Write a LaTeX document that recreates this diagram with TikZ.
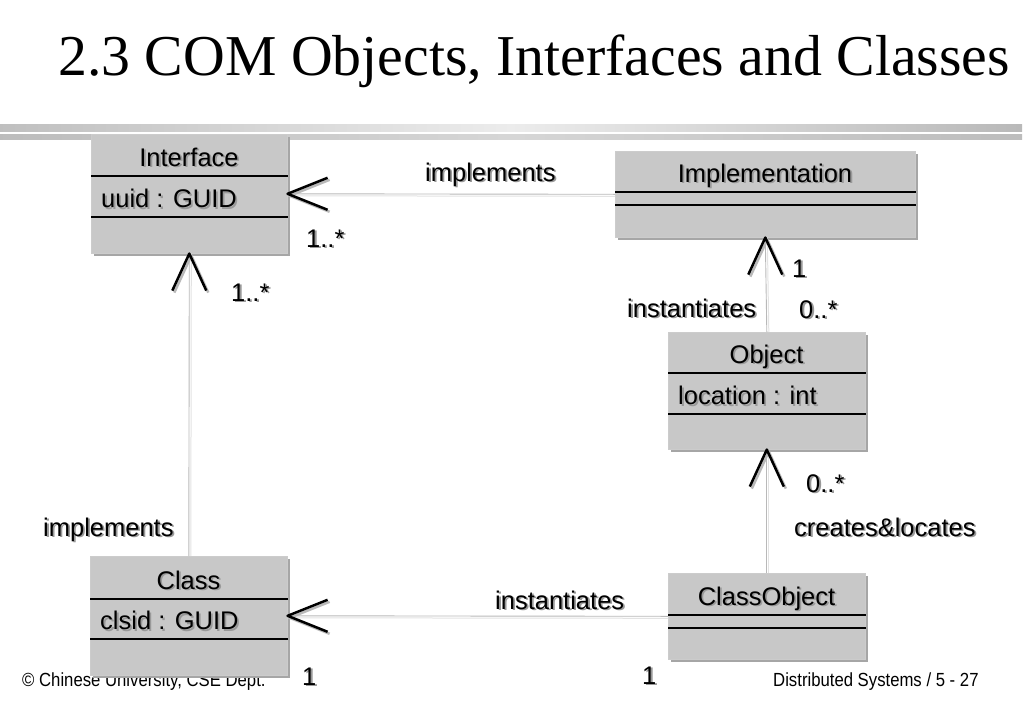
\documentclass[tikz,border=0pt]{standalone}
\usepackage{fontspec}
\setmainfont{Liberation Serif}
\newfontfamily\arialf{Liberation Sans}
\usetikzlibrary{calc,shadows}
\definecolor{boxfill}{HTML}{C8C8C8}
\definecolor{boxshadow}{HTML}{A6A6A6}
\definecolor{txtshadow}{HTML}{999999}
\newcommand\shadowed[1]{\rlap{\kern1.8pt\raisebox{-1.8pt}{\color{txtshadow}#1}}#1}
\tikzset{
  umlbox/.style={draw=gray!40, line width=0.6pt, fill=boxfill, inner sep=0pt,
    anchor=north west,
    drop shadow={shadow xshift=3pt, shadow yshift=-3pt, fill=boxshadow, opacity=1}},
  compline/.style={draw=black, line width=1.1pt},
  lbl/.style={font=\arialf\fontsize{25.5}{30}\selectfont, inner sep=0pt, anchor=base west},
  ttl/.style={font=\arialf\fontsize{25.5}{30}\selectfont, inner sep=0pt, anchor=base},
  foot/.style={font=\arialf\fontsize{19}{22}\selectfont, inner sep=0pt, anchor=base west},
  conn/.style={draw=gray!55, line width=0.9pt},
  connsh/.style={draw=gray!22, line width=1pt},
  arm/.style={draw=black, line width=2.5pt, line join=round},
  armsh/.style={draw=gray!55, line width=2.5pt, line join=round},
}
% name, x1, y1, x2, y2, line1, line2, title, attribute
\newcommand\umlclass[9]{%
  \node[umlbox, minimum width={(#4-#2)*1pt}, minimum height={(#5-#3)*1pt}] (#1) at (#2,#3) {};
  \draw[compline] (#1.north west |- 0,#6) -- (#1.north east |- 0,#6);
  \draw[compline] (#1.north west |- 0,#7) -- (#1.north east |- 0,#7);
  \node[ttl] (#1-title) at ({(#2+#4)/2},{#6-10}) {\shadowed{#8}};
  \node[lbl] (#1-attr) at ({#2+10},{#7-9.5}) {\shadowed{#9}};
}
\newcommand\headW[1]{%
  \draw[armsh] ($(#1)+(42,-14)$) -- ($(#1)+(2,2)$) -- ($(#1)+(42,18)$);
  \draw[arm] ($(#1)+(40,-16)$) -- (#1) -- ($(#1)+(40,16)$);}
\newcommand\headN[1]{%
  \draw[armsh] ($(#1)+(-15,39)$) -- ($(#1)+(2,2)$) -- ($(#1)+(19,39)$);
  \draw[arm] ($(#1)+(-17,37)$) -- (#1) -- ($(#1)+(17,37)$);}
\begin{document}
\begin{tikzpicture}[x=1pt,y=-1pt]
\useasboundingbox[fill=white] (0,0) rectangle (1024,709);
% header bars
\shade[left color=gray!50, right color=gray!55, middle color=gray!15] (0,124) rectangle (1022,131);
\shade[left color=gray!95!white!55, right color=gray!95!white!55, middle color=gray!32] (0,134) rectangle (1022,139);
% title
\node[font=\fontsize{57.8}{64}\selectfont, inner sep=0pt, anchor=base west] (title) at (58,75) {2.3 COM Objects, Interfaces and Classes};
% footer
\node[foot] (footl) at (22,686) {\scalebox{0.88}[1]{\textcopyright{} Chinese University, CSE Dept.}};
\node[foot] (footr) at (773,686) {\scalebox{0.88}[1]{Distributed Systems / 5 - 27}};
% classes
\umlclass{ifc}{91}{134}{287}{253}{176}{217}{Interface}{uuid : GUID}
\umlclass{impl}{615}{151}{915}{237}{192}{205}{Implementation}{}
\umlclass{obj}{668}{332}{865}{449}{373}{414}{Object}{location : int}
\umlclass{cls}{90}{556}{287}{675}{599}{639}{Class}{clsid : GUID}
\umlclass{clo}{668}{573}{865}{659}{615}{628}{ClassObject}{}
% connectors
\draw[connsh] ($(impl.west)+(0,2)$) -- ($(ifc.east)+(0,2)$);
\draw[conn] (impl.west) -- (ifc.east);
\draw[connsh] ($(clo.west)+(0,2)$) -- ($(cls.east)+(0,2)$);
\draw[conn] (clo.west) -- (cls.east);
\draw[connsh] ($(cls.north)+(2,0)$) -- ($(ifc.south)+(2,0)$);
\draw[conn] (cls.north) -- (ifc.south);
\draw[connsh] ($(obj.north)+(2,0)$) -- ($(impl.south)+(2,0)$);
\draw[conn] (obj.north) -- (impl.south);
\draw[connsh] ($(clo.north)+(2,0)$) -- ($(obj.south)+(2,0)$);
\draw[conn] (clo.north) -- (obj.south);
% arrowheads
\headW{ifc.east}
\headW{cls.east}
\headN{ifc.south}
\headN{impl.south}
\headN{obj.south}
% labels
\node[lbl] (l-impl1) at (425,181) {\shadowed{implements}};
\node[lbl] (m-ifc1) at (306,247) {\shadowed{1..*}};
\node[lbl] (m-ifc2) at (231,301) {\shadowed{1..*}};
\node[lbl] (m-impl) at (792,277) {\shadowed{1}};
\node[lbl] (l-inst1) at (627,317) {\shadowed{instantiates}};
\node[lbl] (m-obj1) at (799,318) {\shadowed{0..*}};
\node[lbl] (m-obj2) at (806,492) {\shadowed{0..*}};
\node[lbl] (l-cre) at (794,536) {\shadowed{creates\&locates}};
\node[lbl] (l-impl2) at (43,536) {\shadowed{implements}};
\node[lbl] (l-inst2) at (495,609) {\shadowed{instantiates}};
\node[lbl] (m-cls) at (302,685) {\shadowed{1}};
\node[lbl] (m-clo) at (642,684) {\shadowed{1}};
\end{tikzpicture}
\end{document}
